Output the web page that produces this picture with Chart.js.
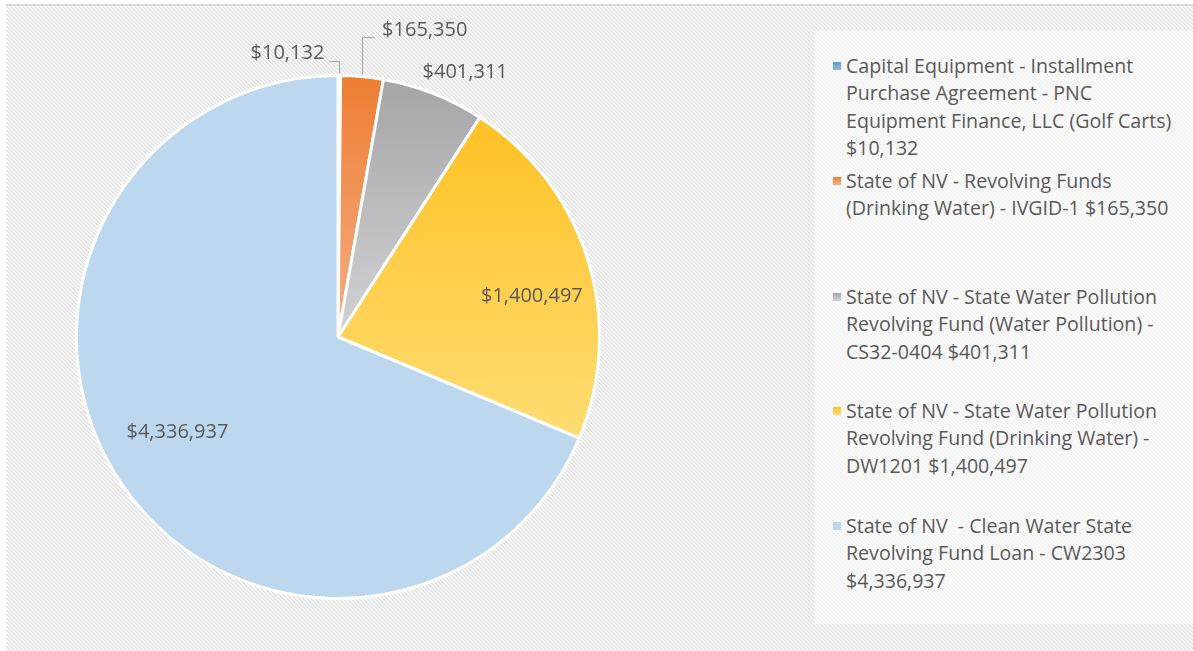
<!DOCTYPE html>
<html>
<head>
<meta charset="utf-8">
<script src="https://cdn.jsdelivr.net/npm/chart.js@4.4.1/dist/chart.umd.min.js"></script>
<style>
  html, body { margin: 0; padding: 0; background: #fff; width: 1193px; height: 651px; overflow: hidden; }
  #frame { position: absolute; left: 6px; top: 4px; width: 1187px; height: 647px; border-top: 2px solid #d9d9d9; box-sizing: border-box; }
  #legendBox { position: absolute; left: 815px; top: 30px; width: 378px; height: 594px; background: rgba(255,255,255,0.55); }
  #chartCanvas { position: absolute; left: 0; top: 0; }
  .lg { position: absolute; left: 846px; font-family: "Open Sans", sans-serif; font-size: 19.6px; line-height: 27.3px; color: #595959; white-space: pre; }
  .mk { position: absolute; left: 833px; width: 8px; height: 8px; }
</style>
</head>
<body>
<div id="frame"></div>
<div id="legendBox"></div>
<canvas id="chartCanvas" width="800" height="651"></canvas>
<div id="legend"></div>
<script>
// ---------------- data ----------------
const categoryLines = [
  ["Capital Equipment - Installment", "Purchase Agreement - PNC", "Equipment Finance, LLC (Golf Carts)"],
  ["State of NV - Revolving Funds", "(Drinking Water) - IVGID-1"],
  ["State of NV - State Water Pollution", "Revolving Fund (Water Pollution) -", "CS32-0404"],
  ["State of NV - State Water Pollution", "Revolving Fund (Drinking Water) -", "DW1201"],
  ["State of NV  - Clean Water State", "Revolving Fund Loan - CW2303"]
];
const values = [10132, 165350, 401311, 1400497, 4336937];

// ---------------- styles ----------------
const gradTop =    ["#5B9BD5", "#ED7D31", "#A5A5A7", "#FFC125", "#BDD7EE"];
const gradBottom = ["#8DB8E3", "#F5B08A", "#D3D3D5", "#FFDD73", "#BDD7EE"];
const legendValueNewLine = [true, false, false, false, true];
const legendTop = [52, 167, 283, 397, 512];
// label placement: mode, radius factor, dx, dy, leader (up, horiz)
const labelCfg = [
  { mode: "leader", up: 15, horiz: -10, align: "right" },
  { mode: "leader", up: 40, horiz: 13, align: "left" },
  { mode: "free", rf: 1.1, dx: 22, dy: 3 },
  { mode: "free", rf: 0.76, dx: 4, dy: 18 },
  { mode: "free", rf: 0.71, dx: -6, dy: -8 }
];

const fmt = v => "$" + v.toLocaleString("en-US");

// ---------------- background hatch ----------------
(function () {
  const t = document.createElement("canvas");
  t.width = 4; t.height = 4;
  const c = t.getContext("2d");
  c.fillStyle = "#ffffff"; c.fillRect(0, 0, 4, 4);
  for (let y = 0; y < 4; y++) for (let x = 0; x < 4; x++) {
    const m = ((x - y) % 4 + 4) % 4;
    if (m === 0) { c.fillStyle = "#dcdcdc"; c.fillRect(x, y, 1, 1); }
    if (m === 1) { c.fillStyle = "#eaeaea"; c.fillRect(x, y, 1, 1); }
  }
  document.getElementById("frame").style.background = "url(" + t.toDataURL() + ")";
})();

// ---------------- legend ----------------
const legendEl = document.getElementById("legend");
categoryLines.forEach((lines, i) => {
  const ls = lines.slice();
  if (legendValueNewLine[i]) ls.push(fmt(values[i]));
  else ls[ls.length - 1] = ls[ls.length - 1] + " " + fmt(values[i]);
  const d = document.createElement("div");
  d.className = "lg";
  d.style.top = legendTop[i] + "px";
  d.textContent = ls.join("\n");
  legendEl.appendChild(d);
  const m = document.createElement("div");
  m.className = "mk";
  m.style.top = (legendTop[i] + 10) + "px";
  m.style.background = "linear-gradient(" + gradTop[i] + "," + gradBottom[i] + ")";
  legendEl.appendChild(m);
});

// ---------------- chart ----------------
const total = values.reduce((a, b) => a + b, 0);
function sliceYRange(i, cy, r) {
  let before = 0;
  for (let k = 0; k < i; k++) before += values[k];
  const a0 = before / total * 2 * Math.PI, a1 = (before + values[i]) / total * 2 * Math.PI;
  const ys = [cy, cy - r * Math.cos(a0), cy - r * Math.cos(a1)];
  if (a0 <= 0) ys.push(cy - r);
  if (a0 <= Math.PI && a1 >= Math.PI) ys.push(cy + r);
  return [Math.min(...ys), Math.max(...ys)];
}

const labelPlugin = {
  id: "sliceLabels",
  afterDatasetsDraw(chart) {
    const ctx = chart.ctx;
    const meta = chart.getDatasetMeta(0);
    ctx.save();
    ctx.font = '20px "Open Sans", sans-serif';
    ctx.fillStyle = "#595959";
    ctx.textBaseline = "middle";
    meta.data.forEach((arc, i) => {
      const p = arc.getProps(["x", "y", "startAngle", "endAngle", "outerRadius"], true);
      const mid = (p.startAngle + p.endAngle) / 2;
      const cfg = labelCfg[i];
      const txt = fmt(values[i]);
      if (cfg.mode === "leader") {
        const ex = p.x + Math.cos(mid) * p.outerRadius;
        const ey = p.y + Math.sin(mid) * p.outerRadius;
        const ty = ey - cfg.up;
        const tx = ex + cfg.horiz;
        ctx.strokeStyle = "#a6a6a6";
        ctx.lineWidth = 1;
        ctx.beginPath();
        ctx.moveTo(Math.round(ex) + 0.5, ey - 2);
        ctx.lineTo(Math.round(ex) + 0.5, Math.round(ty) + 0.5);
        ctx.lineTo(tx, Math.round(ty) + 0.5);
        ctx.stroke();
        if (cfg.align === "right") {
          ctx.textAlign = "right";
          ctx.fillText(txt, tx - 5, ty - 7);
        } else {
          ctx.textAlign = "left";
          ctx.fillText(txt, tx + 7, ty - 6);
        }
      } else {
        const rr = p.outerRadius * cfg.rf;
        ctx.textAlign = "center";
        ctx.fillText(txt, p.x + Math.cos(mid) * rr + cfg.dx, p.y + Math.sin(mid) * rr + cfg.dy);
      }
    });
    ctx.restore();
  }
};

new Chart(document.getElementById("chartCanvas"), {
  type: "pie",
  data: {
    labels: categoryLines.map(l => l.join(" ")),
    datasets: [{
      data: values,
      backgroundColor: (context) => {
        const i = context.dataIndex;
        const chart = context.chart;
        const ca = chart.chartArea;
        if (!ca || i === undefined) return gradTop[i || 0];
        const cx = (ca.left + ca.right) / 2, cy = (ca.top + ca.bottom) / 2;
        const r = Math.min(ca.right - ca.left, ca.bottom - ca.top) / 2;
        const [y0, y1] = sliceYRange(i, cy, r);
        const g = chart.ctx.createLinearGradient(0, y0, 0, y1 + 1);
        g.addColorStop(0, gradTop[i]);
        g.addColorStop(1, gradBottom[i]);
        return g;
      },
      borderColor: "#ffffff",
      borderWidth: 3,
      hoverOffset: 0
    }]
  },
  options: {
    responsive: false,
    animation: false,
    layout: { padding: { left: 75, top: 74, right: 199, bottom: 51 } },
    plugins: { legend: { display: false }, tooltip: { enabled: false } }
  },
  plugins: [labelPlugin]
});
</script>
</body>
</html>
